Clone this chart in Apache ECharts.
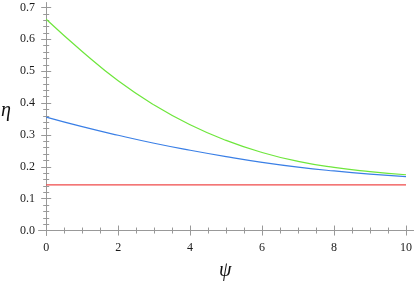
<!DOCTYPE html>
<html>
<head>
<meta charset="utf-8">
<style>html,body{margin:0;padding:0;background:#fff;}#c{width:415px;height:285px;}</style>
<script src="https://cdn.jsdelivr.net/npm/echarts@6/dist/echarts.min.js"></script>
</head>
<body>
<div id="c"></div>
<script>
var psi = [0, 1, 2, 3, 4, 5, 6, 7, 8, 9, 10];
var greenEta = [0.663, 0.562, 0.470, 0.394, 0.332, 0.283, 0.245, 0.217, 0.198, 0.185, 0.175];
var blueEta  = [0.356, 0.326, 0.299, 0.274, 0.252, 0.232, 0.214, 0.199, 0.187, 0.177, 0.169];
var redEta   = [0.143, 0.143, 0.143, 0.143, 0.143, 0.143, 0.143, 0.143, 0.143, 0.143, 0.143];
var xMajor = [0, 2, 4, 6, 8, 10];
var xMinor = [0, 0.5, 1, 1.5, 2, 2.5, 3, 3.5, 4, 4.5, 5, 5.5, 6, 6.5, 7, 7.5, 8, 8.5, 9, 9.5, 10];
var yMajor = [0, 0.1, 0.2, 0.3, 0.4, 0.5, 0.6, 0.7];
var yMinor = [];
for (var i = 0; i <= 35; i++) yMinor.push(+(i * 0.02).toFixed(2));

function zip(xs, ys) { return xs.map(function (x, i) { return [x, ys[i]]; }); }

var frameColor = '#999999';
var font = 'Liberation Serif';

function xAx(pos, values, len, labels) {
  return {
    type: 'value', position: pos, min: -0.2, max: 10.2,
    axisLine: { show: true, lineStyle: { color: frameColor, width: 1 } },
    axisTick: { show: true, inside: true, length: len, customValues: values, lineStyle: { color: frameColor } },
    axisLabel: { show: labels, customValues: xMajor, color: '#1a1a1a', fontFamily: font, fontSize: 12, margin: 7 },
    splitLine: { show: false }
  };
}
function yAx(pos, values, len, labels) {
  return {
    type: 'value', position: pos, min: -0.014, max: 0.714,
    axisLine: { show: true, lineStyle: { color: frameColor, width: 1 } },
    axisTick: { show: true, inside: true, length: len, customValues: values, lineStyle: { color: frameColor } },
    axisLabel: { show: labels, customValues: yMajor, color: '#1a1a1a', fontFamily: font, fontSize: 12, margin: 4,
      formatter: function (v) { return v.toFixed(1); } },
    splitLine: { show: false }
  };
}

var chart = echarts.init(document.getElementById('c'));
chart.setOption({
  animation: false,
  grid: { left: 39, right: 1, top: 3, bottom: 50, containLabel: false },
  xAxis: [
    xAx('bottom', xMajor, 5, true),
    xAx('bottom', xMinor, 3, false),
    xAx('top', xMajor, 5, false),
    xAx('top', xMinor, 3, false)
  ],
  yAxis: [
    yAx('left', yMajor, 5, true),
    yAx('left', yMinor, 3, false),
    yAx('right', yMajor, 5, false),
    yAx('right', yMinor, 3, false)
  ],
  graphic: [
    { type: 'text', left: 1, top: 101, style: { text: 'η', font: 'italic 20px "Liberation Serif"', fill: '#111' } },
    { type: 'text', left: 219, top: 261, style: { text: 'ψ', font: 'italic 20px "Liberation Serif"', fill: '#111' } }
  ],
  series: [
    { type: 'line', data: zip(psi, greenEta), smooth: true, showSymbol: false, lineStyle: { color: '#6ee63c', width: 1.2 } },
    { type: 'line', data: zip(psi, blueEta), smooth: true, showSymbol: false, lineStyle: { color: '#3a7fe6', width: 1.2 } },
    { type: 'line', data: zip(psi, redEta), smooth: false, showSymbol: false, lineStyle: { color: '#f04a4a', width: 1.2 } }
  ]
});
</script>
</body>
</html>
